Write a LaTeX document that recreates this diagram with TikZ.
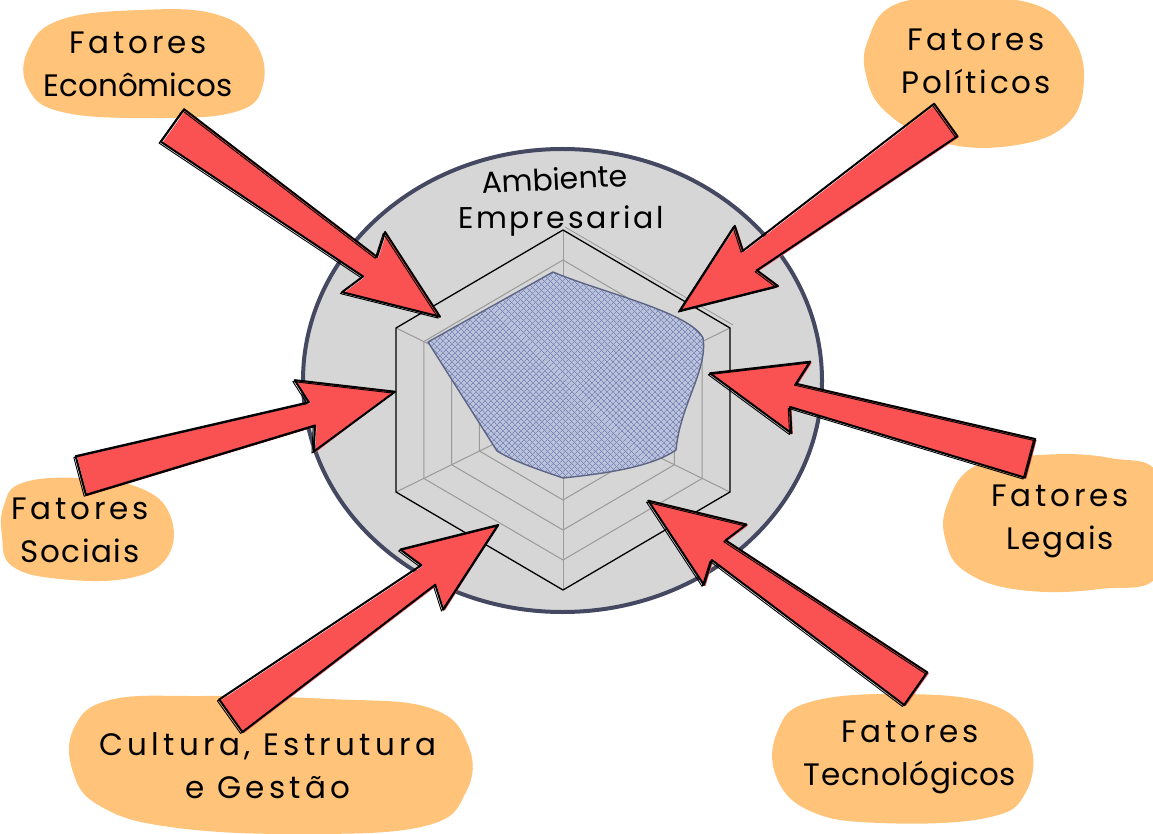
\documentclass[tikz,border=0pt]{standalone}
\usepackage{fontspec}
\setmainfont{Poppins}
\usetikzlibrary{calc,patterns.meta}

\definecolor{blobfill}{HTML}{FFC47A}
\definecolor{arrowred}{HTML}{FA5252}
\definecolor{discfill}{HTML}{D6D6D6}
\definecolor{discline}{HTML}{444860}
\definecolor{hatchfill}{HTML}{B9C0DC}
\definecolor{hatchline}{HTML}{7B89BA}
\definecolor{hatchedge}{HTML}{5C6585}
\definecolor{gridgray}{HTML}{9A9A9A}

\tikzset{
  blob/.style={fill=blobfill},
  labeltext/.style={align=center, inner sep=0pt, font=\fontsize{31}{43}\selectfont},
  titletext/.style={anchor=base, inner sep=0pt, font=\fontsize{30}{36}\selectfont},
  disc/.style={fill=discfill, draw=discline, line width=4pt},
  gridline/.style={draw=gridgray, line width=1pt},
  outerhex/.style={draw=black, line width=1.3pt, line join=round},
  arrowink/.style={draw=black, line width=2pt, line join=round},
  arrowsketch/.style={draw=black, line width=0.9pt, line join=round},
}

% spaced-out line of label text
\newcommand\spaced[2]{{\addfontfeatures{LetterSpace=#1}#2}}

% block arrow from a tail coordinate to a tip coordinate
\newcommand\factorarrow[2]{%
  \coordinate (nk) at ($(#2)!86pt!(#1)$);
  \coordinate (bb) at ($(#2)!94pt!(#1)$);
  \fill[arrowred] ($(#1)!20pt!90:(#2)+(1.5,1)$) -- ($(nk)!12pt!90:(#2)+(1.5,1)$)
    -- ($(bb)!37pt!90:(#2)+(1.5,1)$) -- (#2) -- ($(bb)!37pt!-90:(#2)+(1.5,1)$)
    -- ($(nk)!12pt!-90:(#2)+(1.5,1)$) -- ($(#1)!20pt!-90:(#2)+(1.5,1)$) -- cycle;
  \draw[arrowink] ($(#1)!20pt!90:(#2)$) -- ($(nk)!12pt!90:(#2)$)
    -- ($(bb)!37pt!90:(#2)$) -- (#2) -- ($(bb)!37pt!-90:(#2)$)
    -- ($(nk)!12pt!-90:(#2)$) -- ($(#1)!20pt!-90:(#2)$) -- cycle;
  \draw[arrowsketch] ($(#1)!20pt!90:(#2)+(-1.8,1.4)$) -- ($(nk)!12pt!90:(#2)+(-1.8,1.4)$)
    -- ($(bb)!37pt!90:(#2)+(-1.8,1.4)$) -- ($(#2)+(-1.8,1.4)$) -- ($(bb)!37pt!-90:(#2)+(-1.8,1.4)$)
    -- ($(nk)!12pt!-90:(#2)+(-1.8,1.4)$) -- ($(#1)!20pt!-90:(#2)+(-1.8,1.4)$) -- cycle;
}

\begin{document}
\begin{tikzpicture}[x=1pt, y=-1pt]
\useasboundingbox (0,0) rectangle (1153,834);

% business environment disc
\draw[disc] (562.5,380.5) ellipse[x radius=259.5, y radius=231.5];

% radar grid
\coordinate (O) at (563,410);
\foreach \r in {30,60,90,120,150}
  \draw[gridline] ($(O)+(0,-\r)$) -- ($(O)+(0.928*\r,-0.456*\r)$) -- ($(O)+(0.928*\r,0.456*\r)$)
    -- ($(O)+(0,\r)$) -- ($(O)+(-0.928*\r,0.456*\r)$) -- ($(O)+(-0.928*\r,-0.456*\r)$) -- cycle;
\foreach \dx/\dy in {0/-1, 0.928/-0.456, 0.928/0.456, 0/1, -0.928/0.456, -0.928/-0.456}
  \draw[gridline] (O) -- ($(O)+(180*\dx,180*\dy)$);
\draw[outerhex] ($(O)+(0,-180)$) -- ($(O)+(167,-82)$) -- ($(O)+(167,82)$)
  -- ($(O)+(0,180)$) -- ($(O)+(-167,82)$) -- ($(O)+(-167,-82)$) -- cycle;
\draw[gridgray, line width=0.8pt] ($(O)+(2,-183)$) -- ($(O)+(170,-85)$);

% data area
\def\datashape{(428,342) -- (553,272) .. controls (600,292) and (690,312) .. (703,338)
  .. controls (708,370) and (680,405) .. (676,450) .. controls (650,468) and (600,474) .. (563,478)
  .. controls (540,470) and (515,462) .. (497,451) -- cycle}
\fill[hatchfill, opacity=0.85] \datashape;
\fill[pattern={Lines[angle=45, distance=4pt, line width=0.7pt]}, pattern color=hatchline] \datashape;
\fill[pattern={Lines[angle=-45, distance=4pt, line width=0.7pt]}, pattern color=hatchline] \datashape;
\draw[hatchedge, line width=1.4pt, line join=round] \datashape;

% disc title
\node[titletext, rotate=3] (title1) at (555,190) {Ambiente};
\node[titletext] (title2) at (561,229) {\spaced{9}{Empresarial}};

% factor blobs
\fill[blob] plot[smooth cycle, tension=0.7] coordinates {(28,50) (60,20) (140,10) (215,14) (255,42) (263,85) (235,112) (150,118) (62,112) (28,88)};
\fill[blob] plot[smooth cycle, tension=0.7] coordinates {(868,40) (892,6) (950,-2) (1030,3) (1070,33) (1084,80) (1066,125) (1010,146) (940,142) (886,112) (866,75)};
\fill[blob] plot[smooth cycle, tension=0.7] coordinates {(4,505) (22,483) (80,478) (140,488) (170,515) (168,556) (130,578) (60,579) (12,566) (2,536)};
\fill[blob] plot[smooth cycle, tension=0.7] coordinates {(947,505) (975,466) (1040,455) (1110,458) (1160,478) (1160,572) (1100,589) (1020,590) (966,572) (946,542)};
\fill[blob] plot[smooth cycle, tension=0.7] coordinates {(74,728) (110,700) (200,696) (330,699) (430,708) (468,745) (466,792) (425,826) (300,834) (170,827) (100,806) (73,772)};
\fill[blob] plot[smooth cycle, tension=0.7] coordinates {(778,730) (810,702) (900,694) (990,704) (1029,740) (1026,792) (986,818) (880,823) (810,811) (776,776)};

% factor labels
\node[labeltext] (econ) at (138,64) {\spaced{12}{Fatores}\\Econômicos};
\node[labeltext] (polit) at (976,61) {\spaced{12}{Fatores}\\\spaced{9}{Políticos}};
\node[labeltext] (soc) at (80,530) {\spaced{12}{Fatores}\\\spaced{5}{Sociais}};
\node[labeltext] (leg) at (1060,521) {\spaced{12}{Fatores}\\\spaced{6}{Legais}};
\node[labeltext] (cult) at (268,766) {\spaced{14}{Cultura, Estrutura}\\\spaced{14}{e Gestão}};
\node[labeltext] (tec) at (910,757) {\spaced{12}{Fatores}\\\spaced{2}{Tecnológicos}};

% arrow ends
\coordinate (econT) at (172.5,125.5);  \coordinate (econH) at (440,316.7);
\coordinate (politT) at (945.8,120);   \coordinate (politH) at (680,310.7);
\coordinate (socT) at (80.8,475.5);    \coordinate (socH) at (395,391.7);
\coordinate (legT) at (1030,458.3);    \coordinate (legH) at (710,373.3);
\coordinate (cultT) at (230.8,715.8);  \coordinate (cultH) at (498.3,525);
\coordinate (tecT) at (915.8,688.7);   \coordinate (tecH) at (648.3,500.7);

\factorarrow{econT}{econH}
\factorarrow{politT}{politH}
\factorarrow{socT}{socH}
\factorarrow{legT}{legH}
\factorarrow{cultT}{cultH}
\factorarrow{tecT}{tecH}
\end{tikzpicture}
\end{document}
